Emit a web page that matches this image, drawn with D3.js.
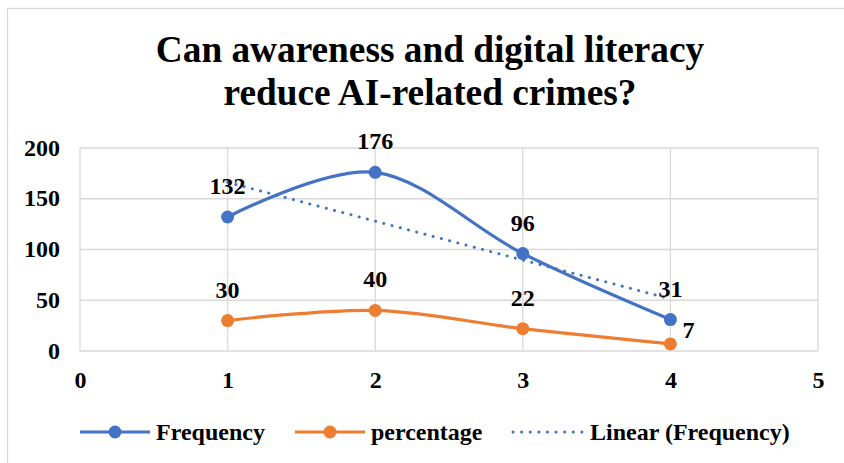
<!DOCTYPE html>
<html>
<head>
<meta charset="utf-8">
<script src="https://cdn.jsdelivr.net/npm/d3@7/dist/d3.min.js"></script>
<style>
  html, body { margin: 0; padding: 0; background: #fff; }
  svg { display: block; }
</style>
</head>
<body>
<svg id="chart" width="844" height="463"></svg>
<script>
// Survey results: response option (1-4) against count and share
const titleLines = ["Can awareness and digital literacy", "reduce AI-related crimes?"];
const xTicks = [0, 1, 2, 3, 4, 5];
const yTicks = [0, 50, 100, 150, 200];
const options = [1, 2, 3, 4];
const frequency = [132, 176, 96, 31];
const percentage = [30, 40, 22, 7];
const percentageLabelSide = ["above", "above", "above", "right"];
const seriesNames = ["Frequency", "percentage", "Linear (Frequency)"];

const blue = "#4472C4", orange = "#ED7D31", grid = "#d9d9d9";
const FONT = "'Liberation Serif', 'Times New Roman', serif";

// shared text styling
function serif(sel, size) {
  return sel.style("font-family", FONT).style("font-weight", "bold")
    .style("font-size", size + "px").attr("fill", "#000");
}

const svg = d3.select("#chart");
svg.append("rect").attr("width", 844).attr("height", 463).attr("fill", "#fff");
// chart frame
svg.append("rect").attr("x", 7.5).attr("y", 8.5).attr("width", 850).attr("height", 470)
  .attr("fill", "none").attr("stroke", grid).attr("stroke-width", 1.3);

// title
serif(svg.append("g").selectAll("text").data(titleLines).join("text")
  .attr("x", 430).attr("y", (d, i) => 62 + i * 43)
  .attr("text-anchor", "middle").text(d => d), 37.3);

const x = d3.scaleLinear().domain([0, 5]).range([80, 818]);
const y = d3.scaleLinear().domain([0, 200]).range([351, 148]);

// gridlines
const g = svg.append("g");
g.selectAll(".hg").data(yTicks).join("line")
  .attr("x1", x(0)).attr("x2", x(5)).attr("y1", d => y(d)).attr("y2", d => y(d))
  .attr("stroke", grid).attr("stroke-width", 1.3);
g.selectAll(".vg").data(xTicks).join("line")
  .attr("y1", y(0)).attr("y2", y(200)).attr("x1", d => x(d)).attr("x2", d => x(d))
  .attr("stroke", grid).attr("stroke-width", 1.3);

// axis labels
const yAxis = svg.append("g").attr("transform", `translate(${x(0)},0)`)
  .call(d3.axisLeft(y).tickValues(yTicks).tickSize(0).tickPadding(20));
yAxis.select(".domain").remove();
serif(yAxis.selectAll("text").attr("dy", "0.3em"), 24);

const xAxis = svg.append("g").attr("transform", `translate(0,${y(0)})`)
  .call(d3.axisBottom(x).tickValues(xTicks).tickSize(0).tickFormat(d3.format("d")).tickPadding(0));
xAxis.select(".domain").remove();
serif(xAxis.selectAll("text").attr("dy", null).attr("y", 37), 24);

const smooth = d3.line().x(d => x(d[0])).y(d => y(d[1])).curve(d3.curveCatmullRom.alpha(0));
const freqPts = options.map((o, i) => [o, frequency[i]]);
const pctPts = options.map((o, i) => [o, percentage[i]]);

// least-squares trend of frequency
const mx = d3.mean(options), my = d3.mean(frequency);
const slope = d3.sum(options, (o, i) => (o - mx) * (frequency[i] - my)) / d3.sum(options, o => (o - mx) ** 2);
const intercept = my - slope * mx;
const trendPts = [options[0], options[options.length - 1]].map(o => [o, intercept + slope * o]);

svg.append("path").attr("d", smooth(freqPts)).attr("fill", "none")
  .attr("stroke", blue).attr("stroke-width", 3.2);
svg.append("path").attr("d", smooth(pctPts)).attr("fill", "none")
  .attr("stroke", orange).attr("stroke-width", 3.2);

svg.append("g").selectAll("circle").data(freqPts).join("circle")
  .attr("cx", d => x(d[0])).attr("cy", d => y(d[1])).attr("r", 6.5).attr("fill", blue);
svg.append("g").selectAll("circle").data(pctPts).join("circle")
  .attr("cx", d => x(d[0])).attr("cy", d => y(d[1])).attr("r", 6.5).attr("fill", orange);

svg.append("line")
  .attr("x1", x(trendPts[0][0])).attr("y1", y(trendPts[0][1]))
  .attr("x2", x(trendPts[1][0])).attr("y2", y(trendPts[1][1]))
  .attr("stroke", blue).attr("stroke-width", 3).attr("stroke-linecap", "round")
  .attr("stroke-dasharray", "0.1 8.4");

// data labels
serif(svg.append("g").selectAll("text").data(freqPts).join("text")
  .attr("x", d => x(d[0])).attr("y", d => y(d[1]) - 23)
  .attr("text-anchor", "middle").text(d => d[1]), 24);
serif(svg.append("g").selectAll("text").data(pctPts).join("text")
  .attr("x", (d, i) => percentageLabelSide[i] === "right" ? x(d[0]) + 12 : x(d[0]))
  .attr("y", (d, i) => percentageLabelSide[i] === "right" ? y(d[1]) - 6 : y(d[1]) - 23)
  .attr("text-anchor", (d, i) => percentageLabelSide[i] === "right" ? "start" : "middle")
  .text(d => d[1]), 24);

// legend
const legendY = 432;
const legendItems = [
  { name: seriesNames[0], color: blue, x0: 80, marker: true },
  { name: seriesNames[1], color: orange, x0: 295, marker: true },
  { name: seriesNames[2], color: blue, x0: 513, marker: false }
];
const lg = svg.append("g").selectAll("g").data(legendItems).join("g");
lg.append("line")
  .attr("x1", d => d.x0).attr("x2", d => d.x0 + 70).attr("y1", legendY).attr("y2", legendY)
  .attr("stroke", d => d.color)
  .attr("stroke-width", d => d.marker ? 3.2 : 3)
  .attr("stroke-linecap", d => d.marker ? "butt" : "round")
  .attr("stroke-dasharray", d => d.marker ? null : "0.1 8.5");
lg.filter(d => d.marker).append("circle")
  .attr("cx", d => d.x0 + 35).attr("cy", legendY).attr("r", 6.5).attr("fill", d => d.color);
serif(lg.append("text").attr("x", d => d.x0 + (d.marker ? 76 : 77)).attr("y", legendY + 8)
  .text(d => d.name), 24);
</script>
</body>
</html>
